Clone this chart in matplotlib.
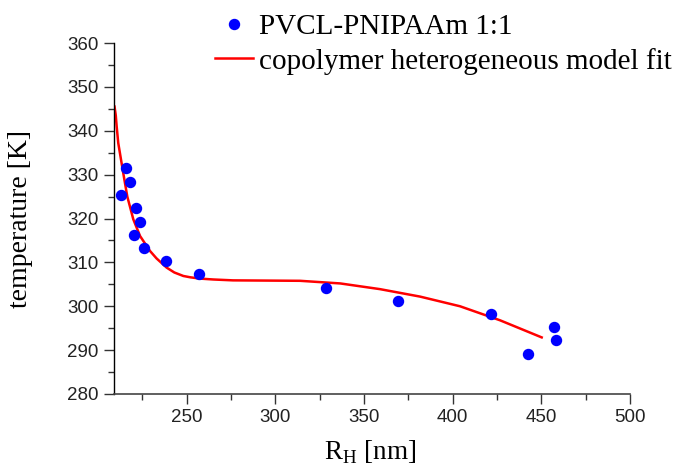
import matplotlib
matplotlib.use("Agg")
import matplotlib.pyplot as plt
from matplotlib.ticker import MultipleLocator

# data
rh_data = [212.8, 215.8, 218.0, 221.4, 223.7, 220.4, 226.1, 238.3, 256.9,
           328.4, 369.0, 421.8, 442.5, 457.3, 458.3]
temp_data = [325.4, 331.4, 328.3, 322.3, 319.3, 316.3, 313.3, 310.4, 307.4,
             304.2, 301.2, 298.3, 289.2, 295.3, 292.2]

rh_fit = [209.3, 210.0, 210.5, 211.4, 214.2, 216.5, 219.9, 223.7, 229.3, 233.0,
          238.7, 243.0, 248.1, 252.0, 257.5, 265.0, 276.1, 313.9, 336.6, 359.0,
          381.6, 404.1, 426.7, 450.2]
temp_fit = [345.5, 343.5, 341.0, 337.2, 330.4, 325.0, 319.8, 316.0, 312.6, 310.9,
            308.8, 307.7, 306.9, 306.6, 306.3, 306.1, 305.9, 305.8, 305.2, 303.9,
            302.2, 300.0, 296.8, 292.9]

series_label = "PVCL-PNIPAAm 1:1"
fit_label = "copolymer heterogeneous model fit"
xlabel = r"R$_\mathregular{H}$ [nm]"
ylabel = "temperature [K]"

plt.rcParams['mathtext.fontset'] = 'custom'
plt.rcParams['mathtext.rm'] = 'Liberation Serif'

fig = plt.figure(figsize=(6.77, 4.68), dpi=100)
ax = fig.add_axes([114/677, 1-394/468, (630-114)/677, (394-43)/468])

pts, = ax.plot(rh_data, temp_data, 'o', color='#0000ff', ms=7.2, mec='#0000ff',
               label=series_label, zorder=3)
ln, = ax.plot(rh_fit, temp_fit, '-', color='#ff0000', lw=1.8, label=fit_label, zorder=2)

ax.set_xlim(209, 500)
ax.set_ylim(280, 360)
ax.xaxis.set_major_locator(MultipleLocator(50))
ax.xaxis.set_minor_locator(MultipleLocator(25))
ax.yaxis.set_major_locator(MultipleLocator(10))
ax.yaxis.set_minor_locator(MultipleLocator(5))

for s in ['top', 'right']:
    ax.spines[s].set_visible(False)
ax.spines['left'].set_color('black')
ax.spines['bottom'].set_color('#444444')
ax.spines['left'].set_linewidth(1.0)
ax.spines['bottom'].set_linewidth(1.2)

ax.tick_params(axis='both', which='major', direction='out', length=7, width=1,
               labelsize=13.5, labelcolor='#222222', color='#333333')
ax.tick_params(axis='both', which='minor', direction='out', length=4, width=1,
               color='#333333')
ax.tick_params(axis='y', pad=4)
ax.tick_params(axis='x', pad=4)
for t in ax.get_xticklabels() + ax.get_yticklabels():
    t.set_fontfamily('Liberation Sans')

ax.set_xlabel(xlabel, fontsize=19.5, fontfamily='Liberation Serif')
ax.set_ylabel(ylabel, fontsize=20, fontfamily='Liberation Serif')
ax.xaxis.set_label_coords((370-114)/516, -(439-394)/351)
ax.yaxis.set_label_coords(-(114-33)/516, 0.5)

leg = fig.legend(handles=[pts, ln], loc='upper left',
                 bbox_to_anchor=(215/677, 1-14/468), frameon=False,
                 prop={'family': 'Liberation Serif', 'size': 21},
                 handlelength=1.3, handletextpad=0.2, labelspacing=0.25,
                 borderpad=0, borderaxespad=0)

fig.savefig("out.png", dpi=100)
